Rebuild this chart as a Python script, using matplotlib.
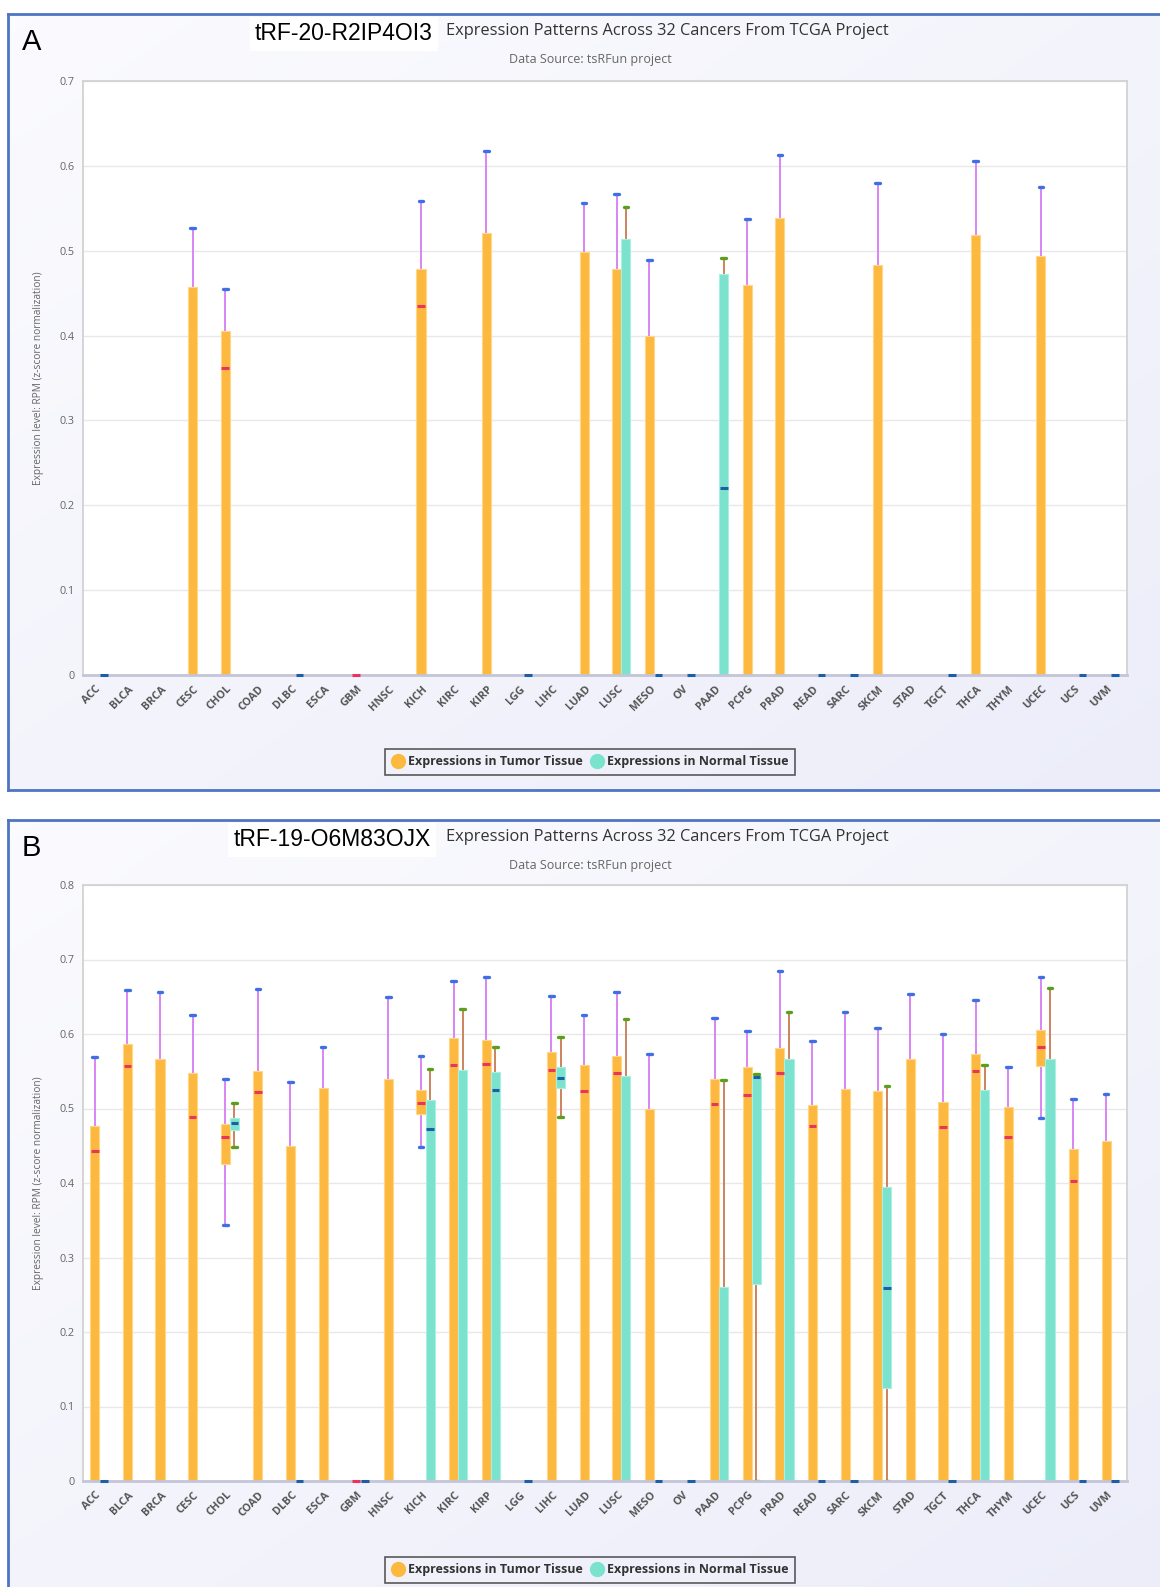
import numpy as np
import matplotlib
matplotlib.use("Agg")
import matplotlib.pyplot as plt
from matplotlib.lines import Line2D
from matplotlib import font_manager as fm

W, H = 1160, 1587
nan = np.nan

cancers = ["ACC", "BLCA", "BRCA", "CESC", "CHOL", "COAD", "DLBC", "ESCA", "GBM", "HNSC",
           "KICH", "KIRC", "KIRP", "LGG", "LIHC", "LUAD", "LUSC", "MESO", "OV", "PAAD",
           "PCPG", "PRAD", "READ", "SARC", "SKCM", "STAD", "TGCT", "THCA", "THYM", "UCEC",
           "UCS", "UVM"]

# ---------------- Panel A : tRF-20-R2IP4OI3 ----------------
# tumor  (low, q1, median, q3, high)
a_t_low = [nan, nan, nan, 0, 0, nan, nan, nan, 0, nan, 0, nan, 0, nan, nan, 0, 0, 0, nan, nan,
           0, 0, nan, nan, 0, nan, nan, 0, nan, 0, nan, nan]
a_t_q1 = [nan, nan, nan, 0, 0, nan, nan, nan, 0, nan, 0, nan, 0, nan, nan, 0, 0, 0, nan, nan,
          0, 0, nan, nan, 0, nan, nan, 0, nan, 0, nan, nan]
a_t_med = [nan, nan, nan, nan, 0.362, nan, nan, nan, 0, nan, 0.435, nan, nan, nan, nan, nan, nan, nan, nan, nan,
           nan, nan, nan, nan, nan, nan, nan, nan, nan, nan, nan, nan]
a_t_q3 = [nan, nan, nan, 0.457, 0.405, nan, nan, nan, 0, nan, 0.478, nan, 0.521, nan, nan, 0.499, 0.479, 0.400, nan, nan,
          0.460, 0.539, nan, nan, 0.483, nan, nan, 0.519, nan, 0.494, nan, nan]
a_t_high = [nan, nan, nan, 0.527, 0.455, nan, nan, nan, 0, nan, 0.559, nan, 0.617, nan, nan, 0.556, 0.567, 0.489, nan, nan,
            0.537, 0.613, nan, nan, 0.580, nan, nan, 0.606, nan, 0.575, nan, nan]
# normal
a_n_low = [0, nan, nan, nan, nan, nan, 0, nan, nan, nan, nan, nan, nan, 0, nan, nan, 0, 0, 0, 0,
           nan, nan, 0, 0, nan, nan, 0, nan, nan, nan, 0, 0]
a_n_q1 = [0, nan, nan, nan, nan, nan, 0, nan, nan, nan, nan, nan, nan, 0, nan, nan, 0, 0, 0, 0,
          nan, nan, 0, 0, nan, nan, 0, nan, nan, nan, 0, 0]
a_n_med = [0, nan, nan, nan, nan, nan, 0, nan, nan, nan, nan, nan, nan, 0, nan, nan, nan, 0, 0, 0.220,
           nan, nan, 0, 0, nan, nan, 0, nan, nan, nan, 0, 0]
a_n_q3 = [0, nan, nan, nan, nan, nan, 0, nan, nan, nan, nan, nan, nan, 0, nan, nan, 0.514, 0, 0, 0.473,
          nan, nan, 0, 0, nan, nan, 0, nan, nan, nan, 0, 0]
a_n_high = [0, nan, nan, nan, nan, nan, 0, nan, nan, nan, nan, nan, nan, 0, nan, nan, 0.551, 0, 0, 0.492,
            nan, nan, 0, 0, nan, nan, 0, nan, nan, nan, 0, 0]

# ---------------- Panel B : tRF-19-O6M83OJX ----------------
b_t_low = [0, 0, 0, 0, 0.343, 0, 0, 0, 0, 0, 0.4485, 0, 0, nan, 0, 0, 0, 0, nan, 0,
           0, 0, 0, 0, 0, 0, 0, 0, 0, 0.4866, 0, 0]
b_t_q1 = [0, 0, 0, 0, 0.425, 0, 0, 0, 0, 0, 0.493, 0, 0, nan, 0, 0, 0, 0, nan, 0,
          0, 0, 0, 0, 0, 0, 0, 0, 0, 0.5565, 0, 0]
b_t_med = [0.4435, 0.557, nan, 0.488, 0.462, 0.522, nan, nan, 0, nan, 0.507, 0.558, 0.5595, nan, 0.552, 0.523, 0.548, nan, nan, 0.506,
           0.518, 0.548, 0.476, nan, nan, nan, 0.475, 0.5507, 0.462, 0.582, 0.403, nan]
b_t_q3 = [0.477, 0.587, 0.566, 0.547, 0.479, 0.550, 0.449, 0.528, 0, 0.539, 0.5255, 0.594, 0.592, nan, 0.576, 0.558, 0.571, 0.499, nan, 0.540,
          0.5555, 0.581, 0.5045, 0.5265, 0.524, 0.567, 0.5085, 0.5726, 0.502, 0.605, 0.4458, 0.457]
b_t_high = [0.569, 0.659, 0.656, 0.625, 0.539, 0.661, 0.536, 0.582, 0, 0.650, 0.571, 0.671, 0.676, nan, 0.651, 0.626, 0.656, 0.573, nan, 0.621,
            0.604, 0.685, 0.590, 0.630, 0.608, 0.654, 0.600, 0.645, 0.556, 0.676, 0.5125, 0.519]
b_n_low = [0, nan, nan, nan, 0.4485, nan, 0, nan, 0, nan, 0, 0, 0, 0, 0.488, nan, 0, 0, 0, 0,
           0, 0, 0, 0, 0, nan, 0, 0, nan, 0, 0, 0]
b_n_q1 = [0, nan, nan, nan, 0.471, nan, 0, nan, 0, nan, 0, 0, 0, 0, 0.527, nan, 0, 0, 0, 0,
          0.265, 0, 0, 0, 0.1246, nan, 0, 0, nan, 0, 0, 0]
b_n_med = [0, nan, nan, nan, 0.481, nan, 0, nan, 0, nan, 0.472, nan, 0.5255, 0, 0.541, nan, nan, 0, 0, nan,
           0.5426, nan, 0, 0, 0.2594, nan, 0, nan, nan, nan, 0, 0]
b_n_q3 = [0, nan, nan, nan, 0.4875, nan, 0, nan, 0, nan, 0.511, 0.552, 0.549, 0, 0.556, nan, 0.5435, 0, 0, 0.260,
          0.5435, 0.567, 0, 0, 0.3947, nan, 0, 0.525, nan, 0.567, 0, 0]
b_n_high = [0, nan, nan, nan, 0.5076, nan, 0, nan, 0, nan, 0.553, 0.633, 0.582, 0, 0.596, nan, 0.620, 0, 0, 0.5376,
            0.5466, 0.629, 0, 0, 0.530, nan, 0, 0.558, nan, 0.662, 0, 0]

yticks_a = [0, 0.1, 0.2, 0.3, 0.4, 0.5, 0.6, 0.7]
yticks_b = [0, 0.1, 0.2, 0.3, 0.4, 0.5, 0.6, 0.7, 0.8]

# ---------------- styles ----------------
installed = {f.name for f in fm.fontManager.ttflist}
def pick(*names):
    for n in names:
        if n in installed:
            return n
    return "DejaVu Sans"

F_COND = pick("Liberation Sans Narrow", "Open Sans", "DejaVu Sans")
F_ARIAL = pick("Liberation Sans", "Arial", "DejaVu Sans")
F_UI = pick("Open Sans", "Noto Sans", "DejaVu Sans")

T_FILL, T_EDGE = "#fdb93f", "#ffd789"
N_FILL, N_EDGE = "#7be2cd", "#a9efe2"
T_WHISK, T_CAP, T_MED = "#d57cf3", "#3f6fe6", "#e8345f"
N_WHISK, N_CAP, N_MED = "#c77b52", "#5aa01e", "#1d5ea5"

BW = 0.28
OFF = 0.14


def frac(l, t, r, b):
    return [l / W, 1 - b / H, (r - l) / W, (b - t) / H]


fig = plt.figure(figsize=(W / 100, H / 100), dpi=100)
fig.patch.set_facecolor("white")


def panel_bg(top, bottom):
    bg = fig.add_axes(frac(8, top, 1160, bottom), zorder=-10)
    grad = np.linspace(0, 1, 256)
    g = np.add.outer(grad, grad) / 2
    c0 = np.array([0.985, 0.985, 0.998])
    c1 = np.array([0.925, 0.93, 0.975])
    img = c0[None, None, :] * (1 - g[..., None]) + c1[None, None, :] * g[..., None]
    bg.imshow(img, aspect="auto", extent=[0, 1, 0, 1])
    bg.set_xlim(0, 1)
    bg.set_ylim(0, 1)
    bg.axis("off")
    bc = "#4e74c2"
    bg.plot([0, 0], [0, 1], color=bc, lw=2.0, clip_on=False)
    bg.plot([0, 1], [1, 1], color=bc, lw=2.0, clip_on=False)
    bg.plot([0, 1], [0, 0], color=bc, lw=2.0, clip_on=False)


def draw_series(ax, offset, low, q1, med, q3, high, fill, edge, wc, cc, mc):
    x = np.arange(len(cancers)) + offset
    low, q1, med, q3, high = map(np.asarray, (low, q1, med, q3, high))
    ok = ~np.isnan(q3)
    hgt = np.where(ok, q3 - q1, 0)
    box = ok & (hgt > 0)
    ax.bar(x[box], hgt[box], bottom=q1[box], width=BW, color=fill, edgecolor=edge,
           linewidth=0.8, zorder=3)
    up = ok & (high > q3)
    ax.vlines(x[up], q3[up], high[up], color=wc, lw=1.3, zorder=2.8)
    ax.hlines(high[up], x[up] - 0.07, x[up] + 0.07, color=cc, lw=2.4, zorder=4,
              capstyle="round")
    dn = ok & (low < q1)
    ax.vlines(x[dn], low[dn], q1[dn], color=wc, lw=1.3, zorder=2.8)
    ax.hlines(low[dn], x[dn] - 0.07, x[dn] + 0.07, color=cc, lw=2.4, zorder=4,
              capstyle="round")
    m = ok & ~np.isnan(med)
    ax.hlines(med[m], x[m] - BW * 0.42, x[m] + BW * 0.42, color=mc, lw=2.2, zorder=5,
              clip_on=False)


def panel(top, bottom, pt, pb, ymax, yticks, letter, trf, trf_x, leg_y, data_t, data_n):
    panel_bg(top, bottom)
    ax = fig.add_axes(frac(83, pt, 1127, pb))
    ax.set_facecolor("white")
    ax.set_xlim(-0.5, len(cancers) - 0.5)
    ax.set_ylim(0, ymax)
    ax.set_yticks(yticks)
    ax.set_yticklabels(["0" if v == 0 else f"{v:g}" for v in yticks],
                       fontsize=7.8, color="#666666", family=F_UI)
    ax.set_xticks(np.arange(len(cancers)))
    ax.set_xticklabels(cancers, rotation=45, ha="right", va="center",
                       rotation_mode="anchor", fontsize=7.8, color="#555555",
                       family=F_UI, fontweight="bold")
    ax.tick_params(axis="x", length=0, pad=9)
    ax.tick_params(axis="y", length=0, pad=6)
    ax.grid(axis="y", color="#e8e8e8", lw=1.0, zorder=0)
    ax.set_axisbelow(True)
    for s in ("left", "right", "top"):
        ax.spines[s].set_color("#d2d2d2")
        ax.spines[s].set_linewidth(1.3)
    ax.spines["bottom"].set_color("#c3c5d8")
    ax.spines["bottom"].set_linewidth(2.0)
    ax.spines["bottom"].set_zorder(4.5)

    draw_series(ax, -OFF, *data_t, T_FILL, T_EDGE, T_WHISK, T_CAP, T_MED)
    draw_series(ax, OFF, *data_n, N_FILL, N_EDGE, N_WHISK, N_CAP, N_MED)

    # y axis title
    fig.text(39 / W, 1 - ((pt + pb) / 2) / H, "Expression level: RPM (z-score normalization)",
             rotation=90, ha="center", va="center", fontsize=7.3, color="#666666", family=F_UI)
    # headings
    fig.text(22 / W, 1 - (top + 28) / H, letter, fontsize=21, color="black",
             family=F_ARIAL, ha="left", va="center")
    fig.text(trf_x / W, 1 - (top + 20) / H, trf, fontsize=16.5, color="black",
             family=F_ARIAL, ha="center", va="center",
             bbox=dict(facecolor="white", edgecolor="none", pad=4))
    fig.text(446 / W, 1 - (top + 17) / H,
             "Expression Patterns Across 32 Cancers From TCGA Project",
             fontsize=11.8, color="#333333", family=F_COND, ha="left", va="center")
    fig.text(590 / W, 1 - (top + 46) / H, "Data Source: tsRFun project",
             fontsize=9, color="#666666", family=F_COND, ha="center", va="center")
    # legend
    handles = [Line2D([], [], ls="none", marker="o", ms=10, mfc=T_FILL, mec=T_FILL),
               Line2D([], [], ls="none", marker="o", ms=10, mfc=N_FILL, mec=N_FILL)]
    leg = fig.legend(handles, ["Expressions in Tumor Tissue", "Expressions in Normal Tissue"],
                     loc="center", bbox_to_anchor=(590 / W, 1 - leg_y / H),
                     ncol=2, frameon=True, fancybox=False, handletextpad=0.25,
                     columnspacing=0.7, borderpad=0.55, handlelength=1.0,
                     borderaxespad=0.0,
                     prop=dict(family=F_UI, size=9.0, weight="bold"))
    leg.get_frame().set_edgecolor("#333333")
    leg.get_frame().set_linewidth(1.2)
    leg.get_frame().set_facecolor("none")
    for t in leg.get_texts():
        t.set_color("#333333")
    return ax


panel(14, 790, 81, 675, 0.7, yticks_a, "A", "tRF-20-R2IP4OI3", 344, 762,
      (a_t_low, a_t_q1, a_t_med, a_t_q3, a_t_high),
      (a_n_low, a_n_q1, a_n_med, a_n_q3, a_n_high))
panel(820, 1596, 885, 1481, 0.8, yticks_b, "B", "tRF-19-O6M83OJX", 332, 1570,
      (b_t_low, b_t_q1, b_t_med, b_t_q3, b_t_high),
      (b_n_low, b_n_q1, b_n_med, b_n_q3, b_n_high))

fig.savefig("out.png", dpi=100)
